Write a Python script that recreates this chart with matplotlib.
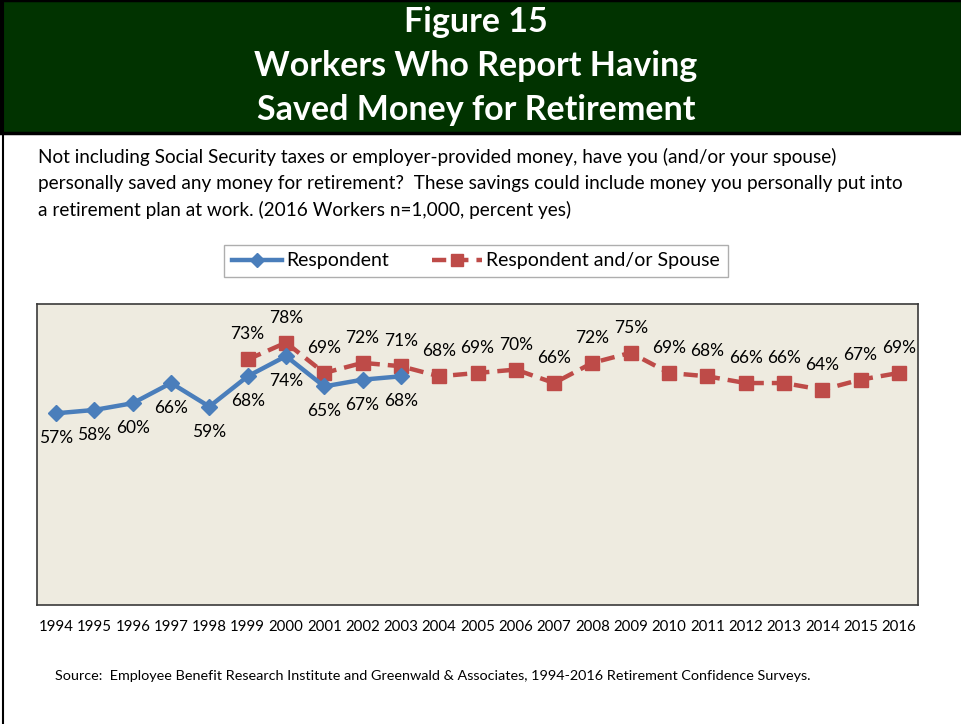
import matplotlib.pyplot as plt
import matplotlib.patches as mpatches
import matplotlib.lines as mlines

plt.rcParams['font.family'] = ['Lato', 'DejaVu Sans']

years = [str(y) for y in range(1994, 2017)]
resp_years = years[:10]          # 1994-2003
resp_vals = [57, 58, 60, 66, 59, 68, 74, 65, 67, 68]
spouse_years = years[5:]         # 1999-2016
spouse_vals = [73, 78, 69, 72, 71, 68, 69, 70, 66, 72, 75, 69, 68, 66, 66, 64, 67, 69]

BLUE = '#4A7EBB'
RED = '#BE4B48'
W, H = 962, 724

fig = plt.figure(figsize=(W / 100, H / 100), dpi=100)

# green header band
fig.patches.append(mpatches.Rectangle((0, 1 - 133 / H), 1, 133 / H, transform=fig.transFigure,
                                      facecolor='#013300', edgecolor='black', linewidth=2.5, zorder=0))
# left border line
fig.lines.append(mlines.Line2D([2.5 / W, 2.5 / W], [0, 1], transform=fig.transFigure,
                               color='black', linewidth=1.5))

title_lines = ["Figure 15", "Workers Who Report Having", "Saved Money for Retirement"]
for i, t in enumerate(title_lines):
    fig.text(476 / W, 1 - (22 + 44 * i) / H, t, ha='center', va='center',
             color='white', fontsize=24.5, fontweight='bold')

sub = ("Not including Social Security taxes or employer-provided money, have you (and/or your spouse)\n"
       "personally saved any money for retirement?  These savings could include money you personally put into\n"
       "a retirement plan at work. (2016 Workers n=1,000, percent yes)")
fig.text(38 / W, 1 - 148 / H, sub, ha='left', va='top', fontsize=13.7, linespacing=1.62)

ax = fig.add_axes([37 / W, (H - 605) / H, 881 / W, 301 / H])
ax.set_facecolor('#EEEBE0')
for s in ax.spines.values():
    s.set_color('#3a3a3a')
    s.set_linewidth(1.2)

x_all = list(range(len(years)))
rx = [years.index(y) for y in resp_years]
sx = [years.index(y) for y in spouse_years]

ax.plot(sx, spouse_vals, color=RED, linewidth=3.2, linestyle=(0, (3.2, 1.8)),
        marker='s', markersize=10, label='Respondent and/or Spouse', zorder=3)
ax.plot(rx, resp_vals, color=BLUE, linewidth=3.2, marker='D', markersize=8.5,
        label='Respondent', zorder=4)

for x, v in zip(rx, resp_vals):
    ax.annotate(f"{v}%", (x, v), xytext=(0, -18), textcoords='offset points',
                ha='center', va='center', fontsize=12.5)
for x, v in zip(sx, spouse_vals):
    ax.annotate(f"{v}%", (x, v), xytext=(0, 18), textcoords='offset points',
                ha='center', va='center', fontsize=12.5)

ax.set_xlim(-0.5, len(years) - 0.5)
ax.set_ylim(0, 89.5)
ax.set_yticks([])
ax.set_xticks(x_all)
ax.set_xticklabels(years, fontsize=10.8)
ax.tick_params(axis='x', length=0, pad=11)

handles, labels = ax.get_legend_handles_labels()
leg = fig.legend(handles[::-1], labels[::-1], loc='center', bbox_to_anchor=(476 / W, 1 - 261 / H),
                 ncol=2, fontsize=14, frameon=True, fancybox=False, edgecolor='#9a9a9a',
                 handlelength=2.6, handletextpad=0.2, columnspacing=2.2, borderpad=0.4,
                 markerscale=0.85)
leg.get_frame().set_linewidth(1.0)

fig.text(55 / W, 1 - 676 / H,
         "Source:  Employee Benefit Research Institute and Greenwald & Associates, 1994-2016 Retirement Confidence Surveys.",
         ha='left', va='center', fontsize=10.4)

fig.savefig('out.png', dpi=100)
